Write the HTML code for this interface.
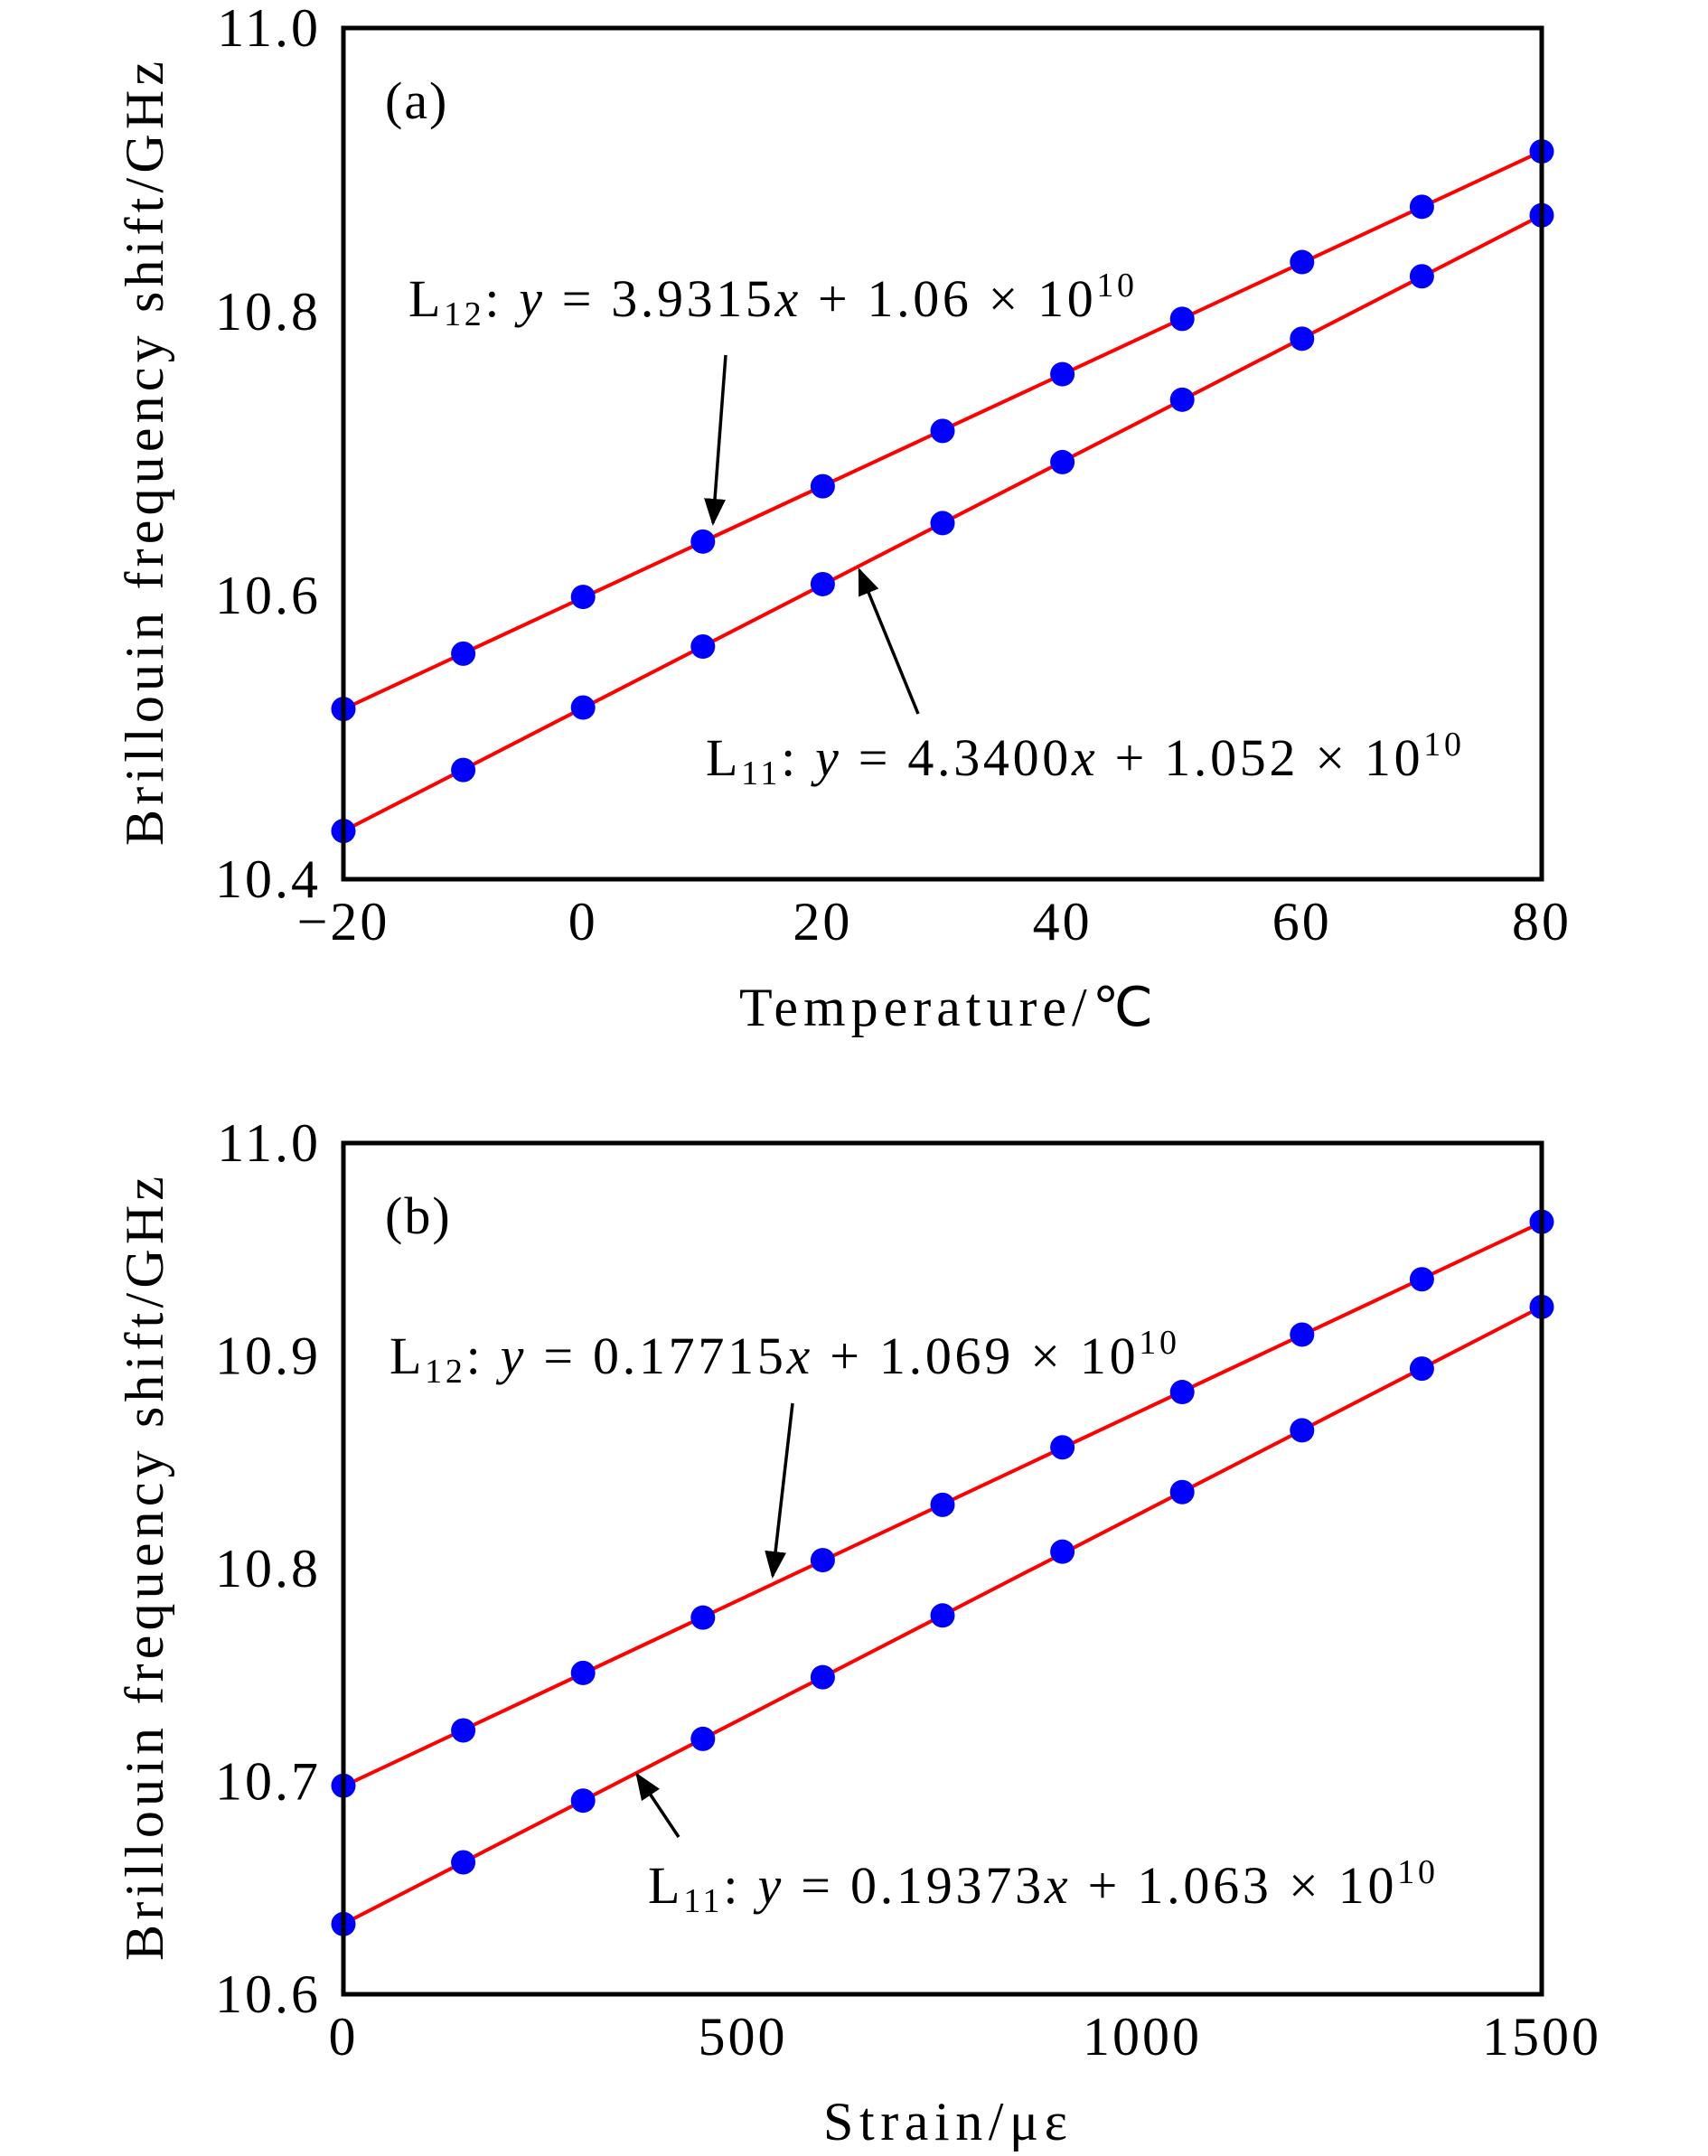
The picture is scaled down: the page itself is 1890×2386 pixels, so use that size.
<!DOCTYPE html>
<html><head><meta charset="utf-8"><style>
body{margin:0;background:#fff}
svg{display:block}
text{font-family:"Liberation Serif",serif;fill:#000}
</style></head><body>
<svg id="chart" width="1890" height="2386" viewBox="0 0 1890 2386" xmlns="http://www.w3.org/2000/svg"></svg>
<script>
const xA = [-20,-10,0,10,20,30,40,50,60,70,80];
const a12 = [10.52,10.559,10.599,10.638,10.677,10.716,10.756,10.795,10.835,10.874,10.913];
const a11 = [10.434,10.477,10.521,10.564,10.608,10.651,10.694,10.738,10.781,10.825,10.868];
const xB = [0,150,300,450,600,750,900,1050,1200,1350,1500];
const b12 = [10.698,10.724,10.751,10.777,10.804,10.830,10.857,10.883,10.910,10.936,10.963];
const b11 = [10.633,10.662,10.691,10.720,10.749,10.778,10.808,10.836,10.865,10.894,10.923];
const xTicksA = [-20,0,20,40,60,80];
const xTickLabelsA = ["\u221220","0","20","40","60","80"];
const yTicksA = [10.4,10.6,10.8,11.0];
const yTickLabelsA = ["10.4","10.6","10.8","11.0"];
const xTicksB = [0,500,1000,1500];
const xTickLabelsB = ["0","500","1000","1500"];
const yTicksB = [10.6,10.7,10.8,10.9,11.0];
const yTickLabelsB = ["10.6","10.7","10.8","10.9","11.0"];

const NS="http://www.w3.org/2000/svg";
const svg=document.getElementById('chart');
function mk(tag,attrs,parent){const e=document.createElementNS(NS,tag);for(const k in attrs)e.setAttribute(k,attrs[k]);(parent||svg).appendChild(e);return e;}

const defs=mk('defs',{});
const mkr=mk('marker',{id:'ah',refX:'9',refY:'5',orient:'auto',markerUnits:'userSpaceOnUse',viewBox:'0 0 10 10'},defs);
mkr.setAttribute('markerWidth','30');mkr.setAttribute('markerHeight','30');
mk('path',{d:'M0,1 L10,5 L0,9 Z',fill:'#000'},mkr);

function panel(cfg){
  const L=380,R=1706,T=cfg.top,B=cfg.top+942;
  const g=mk('g',{});
  
  
  const sx=v=>L+(v-cfg.xmin)/(cfg.xmax-cfg.xmin)*(R-L);
  const sy=v=>B-(v-cfg.ymin)/(cfg.ymax-cfg.ymin)*(B-T);
  cfg.xt.forEach((t,i)=>{const e=mk('text',{x:sx(t),y:cfg.xtickY,'font-size':60,'letter-spacing':3,'text-anchor':'middle'},g);e.textContent=cfg.xl[i];
    });
  cfg.yt.forEach((t,i)=>{const e=mk('text',{x:355,y:sy(t)+20,'font-size':60,'letter-spacing':3,'text-anchor':'end'},g);e.textContent=cfg.yl[i];
    });
  [[cfg.x,cfg.s12,'series-l12'],[cfg.x,cfg.s11,'series-l11']].forEach(([xs,ys,nm])=>{
    const n=xs.length;let mx=0,my=0;xs.forEach((v,i)=>{mx+=v;my+=ys[i];});mx/=n;my/=n;
    let num=0,den=0;xs.forEach((v,i)=>{num+=(v-mx)*(ys[i]-my);den+=(v-mx)*(v-mx);});
    const k=num/den,b0=my-k*mx;
    const ln=mk('line',{x1:sx(xs[0]),y1:sy(k*xs[0]+b0),x2:sx(xs[n-1]),y2:sy(k*xs[n-1]+b0),stroke:'#f00','stroke-width':4},g);
    
    xs.forEach((v,i)=>{const c=mk('circle',{cx:sx(v),cy:sy(ys[i]),r:13.5,fill:'#0000ff'},g);
      });
  });
  const fr=mk('rect',{x:L,y:T,width:R-L,height:B-T,fill:'none',stroke:'#000','stroke-width':5},g);
  
  const pl=mk('text',{x:426,y:T+100,'font-size':58,'letter-spacing':2},g);pl.textContent=cfg.label;
  
  const xt=mk('text',{x:cfg.xtitleX,y:cfg.xtitleY,'font-size':60,textLength:cfg.xtitleW,lengthAdjust:'spacing'},g);xt.textContent=cfg.xtitle;
  
  const yt=mk('text',{x:-434,y:0,'font-size':60,textLength:868,lengthAdjust:'spacing',transform:`translate(180,${(T+B)/2}) rotate(-90)`},g);
  yt.textContent='Brillouin frequency shift/GHz';
  
  cfg.ann.forEach(a=>{
    const t=mk('text',{x:a.x,y:a.y,'font-size':58,textLength:a.w,lengthAdjust:'spacing'},g);
    t.innerHTML=`L<tspan font-size="38" dy="10">${a.sub}</tspan><tspan dy="-10">: </tspan><tspan font-style="italic">y</tspan> = ${a.k}<tspan font-style="italic">x</tspan> + ${a.c} × 10<tspan font-size="38" dy="-22">10</tspan>`;
    
    const ar=mk('line',{x1:a.ax1,y1:a.ay1,x2:a.ax2,y2:a.ay2,stroke:'#000','stroke-width':3.5,'marker-end':'url(#ah)'},g);
    
  });
}
panel({name:'panel-a',top:31,xmin:-20,xmax:80,ymin:10.4,ymax:11.0,x:xA,s12:a12,s11:a11,xt:xTicksA,xl:xTickLabelsA,yt:yTicksA,yl:yTickLabelsA,
  xtickY:1040,xtitleX:818,xtitleW:458,xtitleY:1135,xtitle:'Temperature/\u2103',label:'(a)',
  ann:[{sub:'12',k:'3.9315',c:'1.06',x:452,y:350,w:803,ax1:803,ay1:393,ax2:789,ay2:579},
       {sub:'11',k:'4.3400',c:'1.052',x:781,y:858,w:836,ax1:1016,ay1:790,ax2:951,ay2:631}]});
panel({name:'panel-b',top:1265,xmin:0,xmax:1500,ymin:10.6,ymax:11.0,x:xB,s12:b12,s11:b11,xt:xTicksB,xl:xTickLabelsB,yt:yTicksB,yl:yTickLabelsB,
  xtickY:2274,xtitleX:911,xtitleW:270,xtitleY:2368,xtitle:'Strain/\u03bc\u03b5',label:'(b)',
  ann:[{sub:'12',k:'0.17715',c:'1.069',x:431,y:1520,w:871,ax1:877,ay1:1553,ax2:855,ay2:1744},
       {sub:'11',k:'0.19373',c:'1.063',x:717,y:2106,w:871,ax1:751,ay1:2033,ax2:705,ay2:1964}]});
</script>
</body></html>
